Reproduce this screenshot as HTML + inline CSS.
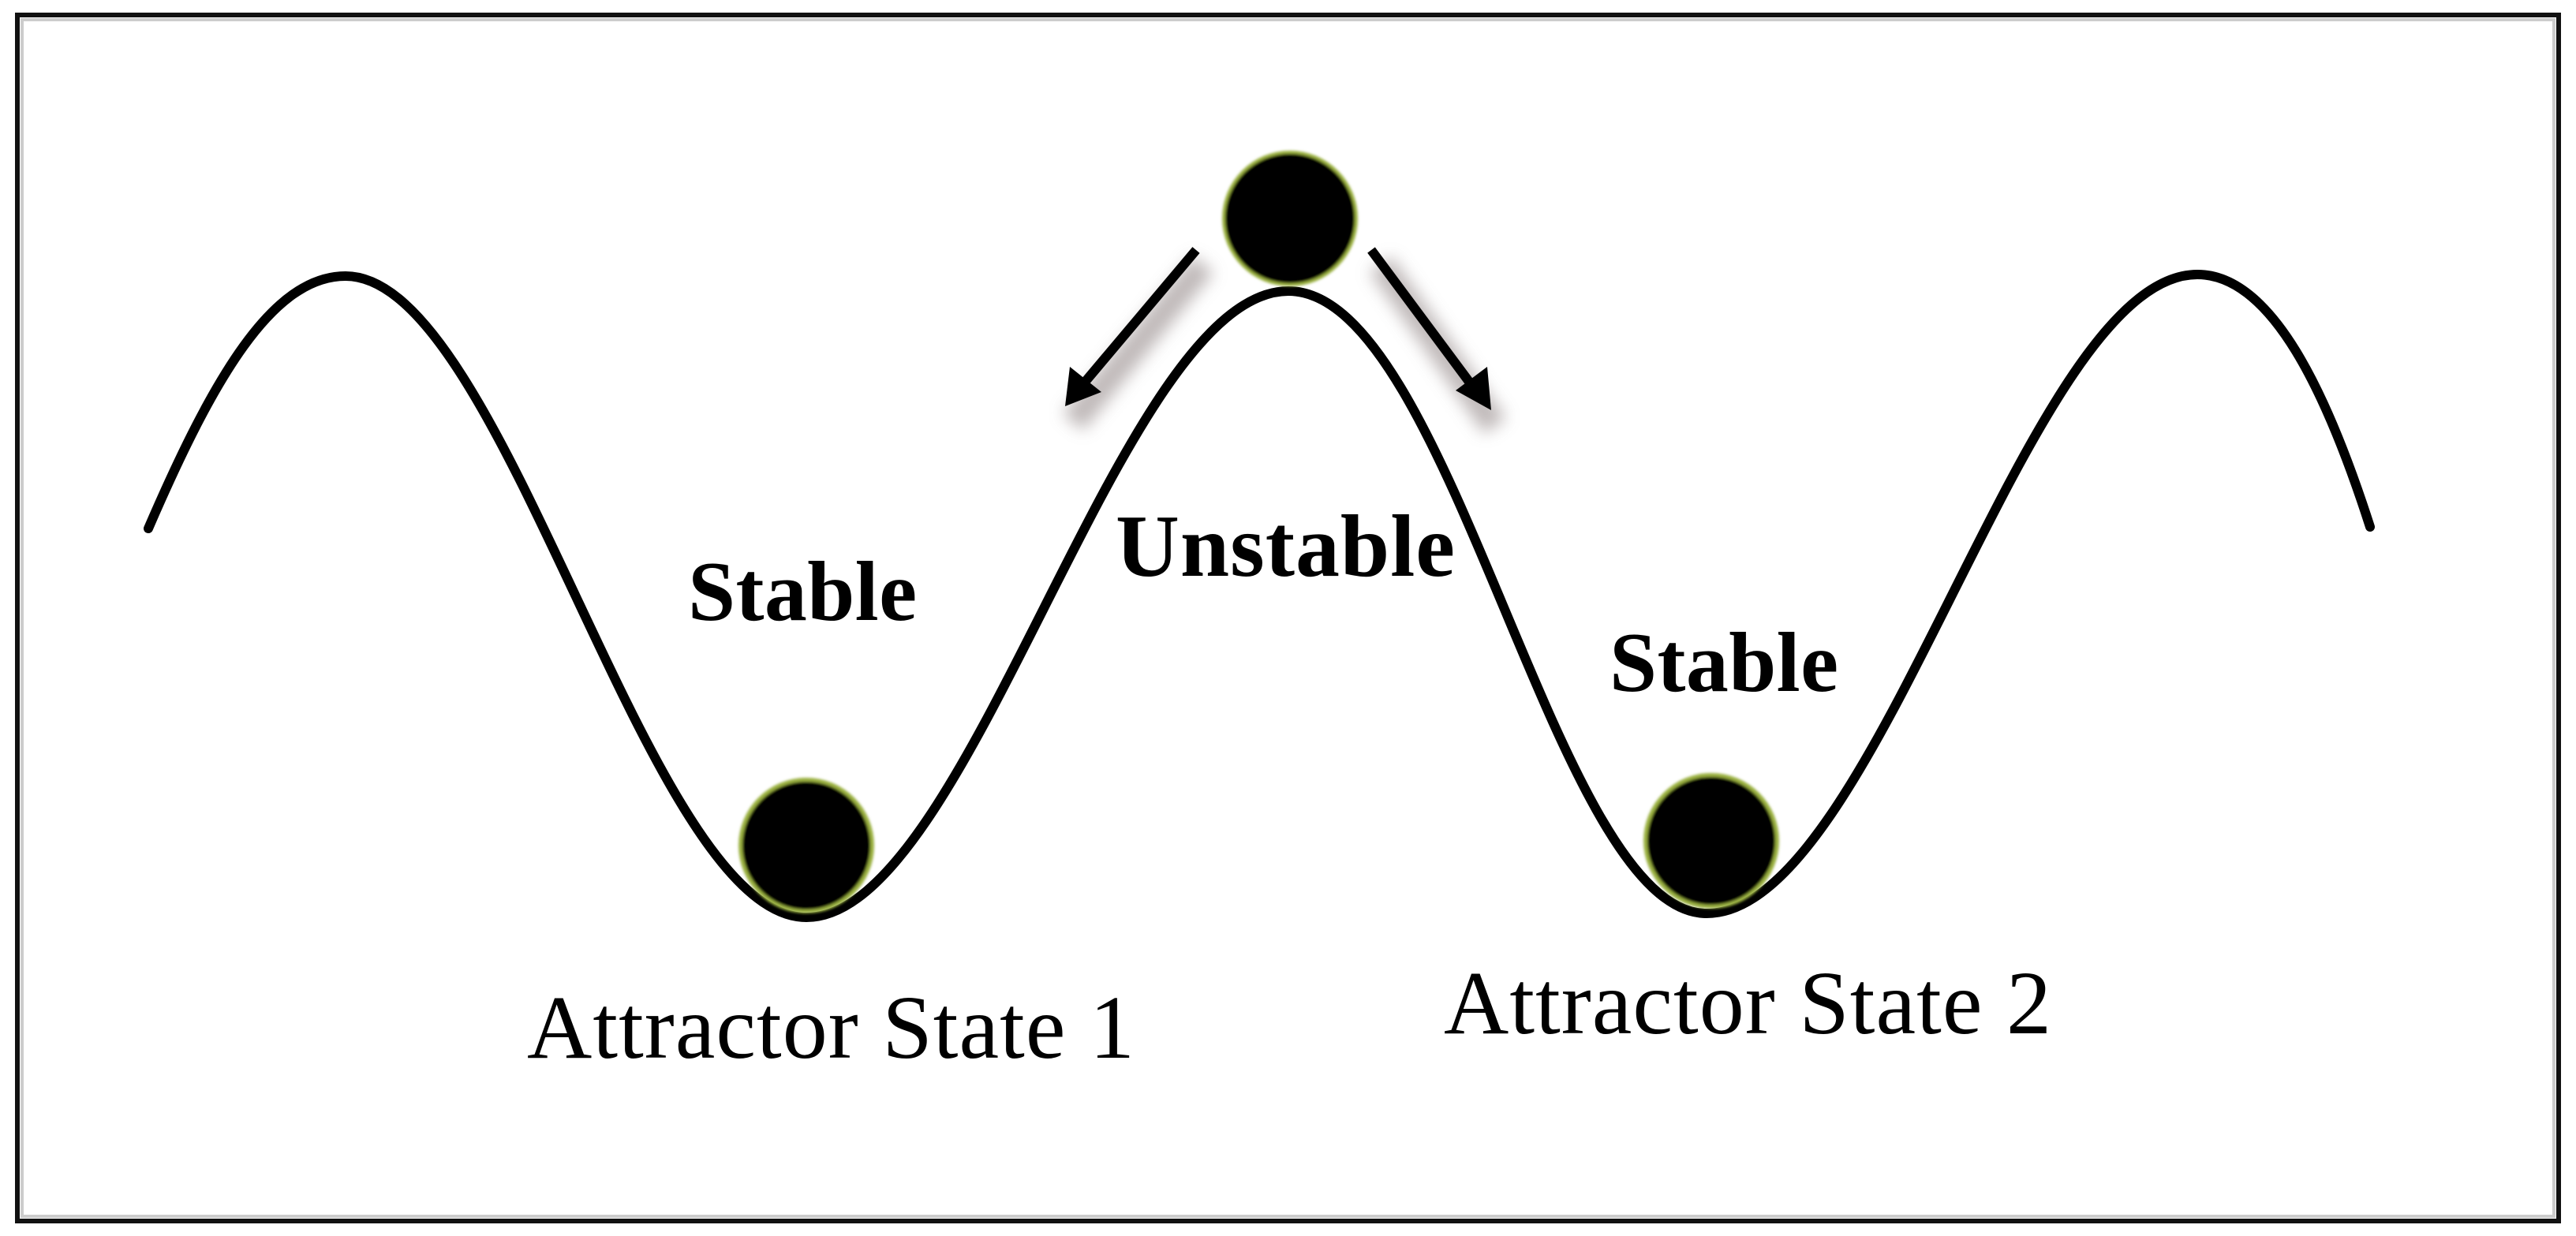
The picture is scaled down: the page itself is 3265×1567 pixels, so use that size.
<!DOCTYPE html>
<html><head><meta charset="utf-8"><style>
html,body{margin:0;padding:0;background:#fff;}
svg{display:block;}
</style></head><body>
<svg width="3265" height="1567" viewBox="0 0 3265 1567" xmlns="http://www.w3.org/2000/svg">
<defs>
<filter id="sh" x="-50%" y="-50%" width="200%" height="200%"><feGaussianBlur stdDeviation="10"/></filter>
<filter id="gl" x="-20%" y="-20%" width="140%" height="140%"><feGaussianBlur stdDeviation="1.5"/></filter>
</defs>
<rect x="0" y="0" width="3265" height="1567" fill="#fff"/>
<rect x="22" y="19" width="3221" height="1529" fill="none" stroke="#111" stroke-width="6"/>
<rect x="28" y="25" width="3209" height="1517" fill="none" stroke="#ccc" stroke-width="4"/>
<path d="M188,670 C270,480 345,350 438,350 C640,350 820,1163 1022,1163 C1230,1163 1420,369 1633,369 C1840,369 1970,1158 2163,1158 C2380,1158 2570,348 2785,348 C2880,348 2950,500 3004,668" fill="none" stroke="#000" stroke-width="12" stroke-linecap="round"/>
<line x1="1525" y1="335" x2="1360" y2="535" stroke="#b0a8a8" stroke-width="34" filter="url(#sh)" opacity="0.8"/>
<line x1="1750" y1="335" x2="1895" y2="540" stroke="#b0a8a8" stroke-width="34" filter="url(#sh)" opacity="0.8"/>
<line x1="1516" y1="317" x2="1372" y2="488" stroke="#000" stroke-width="12"/>
<polygon points="1350,515 1356,465 1396,497" fill="#000"/>
<line x1="1738" y1="317" x2="1868" y2="492" stroke="#000" stroke-width="12"/>
<polygon points="1890,520 1845,495 1885,465" fill="#000"/>
<g filter="url(#gl)">
<circle cx="1635" cy="277" r="86" fill="#9ab040"/>
<circle cx="1635" cy="277" r="82" fill="#000"/>
<circle cx="1022" cy="1072" r="86" fill="#9ab040"/>
<circle cx="1022" cy="1072" r="81" fill="#000"/>
<circle cx="2169" cy="1066" r="86" fill="#9ab040"/>
<circle cx="2169" cy="1066" r="81" fill="#000"/>
</g>
<g font-family="Liberation Serif, serif" fill="#000">
<text x="872" y="786" font-size="108" font-weight="bold" textLength="290">Stable</text>
<text x="1414" y="730" font-size="112" font-weight="bold" textLength="430">Unstable</text>
<text x="2040" y="876" font-size="108" font-weight="bold" textLength="290">Stable</text>
<text x="668" y="1341" font-size="114" textLength="770">Attractor State 1</text>
<text x="1830" y="1310" font-size="114" textLength="770">Attractor State 2</text>
</g>
</svg>
</body></html>
